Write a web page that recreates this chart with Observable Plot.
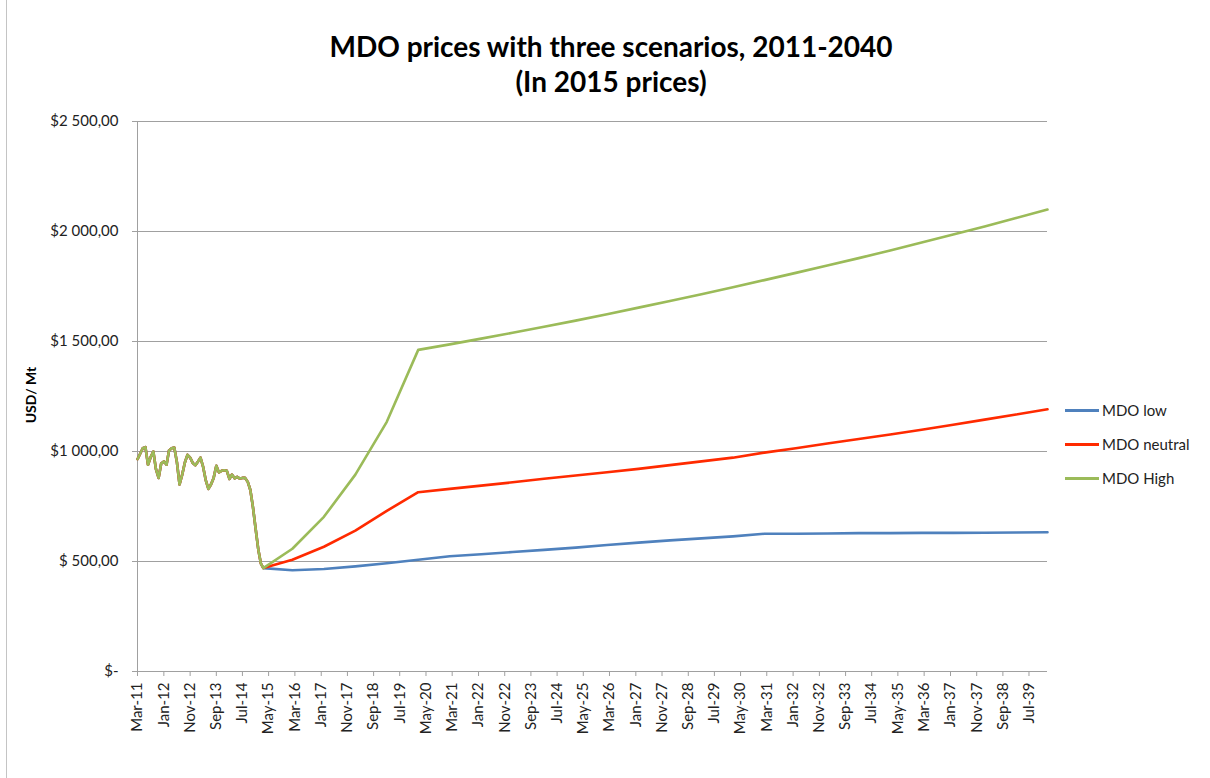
<!DOCTYPE html>
<html>
<head>
<meta charset="utf-8">
<script src="https://cdn.jsdelivr.net/npm/d3@7"></script>
<script src="https://cdn.jsdelivr.net/npm/@observablehq/plot@0.6"></script>
<style>
  body { margin: 0; background: #fff; font-family: Lato, "Open Sans", sans-serif; }
  #wrap { position: relative; width: 1210px; height: 778px; overflow: hidden; }
  #title { box-sizing: border-box; height: 100px; padding-top: 29px; padding-left: 12px; text-align: center;
           font-weight: bold; font-size: 28px; line-height: 35px; color: #000; }
  #ylabel { position: absolute; left: 30px; top: 395px; transform: translate(-50%, -50%) rotate(-90deg);
            font-weight: bold; font-size: 14px; color: #000; white-space: nowrap; }
  #border { position: absolute; left: 6px; top: 0; width: 1px; height: 778px; background: #c4c4c4; }
  .lg { position: absolute; left: 1065px; height: 20px; display: flex; align-items: center; font-size: 15px; color: #222; white-space: nowrap; }
  .lg span.sw { display: inline-block; width: 34px; height: 3px; margin-right: 3px; }
</style>
</head>
<body>
<div id="wrap">
  <div id="border"></div>
  <div id="title">MDO prices with three scenarios, 2011-2040<br>(In 2015 prices)</div>
  <div id="chart"></div>
  <div id="ylabel">USD/ Mt</div>
  <div id="legend"></div>
</div>
<script>
// ---- Data ----
const seriesNames = ["MDO low", "MDO neutral", "MDO High"];
const seriesColors = ["#4F81BD", "#FF2A00", "#9BBB59"];

// Historical monthly prices (shared by all scenarios), Mar-11 .. Mar-15
const histStart = "2011-03";
const histValues = [965, 990, 1015, 1020, 940, 975, 1000, 920, 880, 945, 955, 940,
                    1005, 1015, 1018, 950, 850, 895, 950, 985, 972, 948, 938, 955,
                    972, 930, 870, 830, 850, 880, 935, 905, 912, 915, 912, 875,
                    895, 878, 885, 877, 880, 880, 862, 825, 745, 650, 555, 490, 470];

// Scenario points
const projDates = ["2015-03", "2016-02", "2017-02", "2018-02", "2019-02", "2020-02", "2021-02", "2022-02",
                   "2023-02", "2024-02", "2025-02", "2026-02", "2027-02", "2028-02", "2029-02", "2030-02",
                   "2031-02", "2032-02", "2033-02", "2034-02", "2035-02", "2036-02", "2037-02", "2038-02",
                   "2039-02", "2040-02"];
const lowValues = [470, 460, 466, 478, 492, 508, 524, 533, 543, 553, 563, 575, 586, 596, 605, 614,
                   626, 626, 627, 629, 629, 630, 630, 631, 632, 633];
const neutralValues = [470, 508, 567, 640, 730, 815, 830, 845, 860, 876, 891, 906, 921, 938, 955, 972,
                       995, 1015, 1036, 1057, 1077, 1099, 1122, 1145, 1168, 1192];
const highValues = [470, 558, 703, 895, 1135, 1462, 1487, 1513, 1540, 1567, 1595, 1624, 1654, 1684, 1715, 1747,
                    1779, 1812, 1845, 1879, 1914, 1950, 1986, 2023, 2061, 2100];

// Axis ticks
const xTickLabels = ["Mar-11", "Jan-12", "Nov-12", "Sep-13", "Jul-14", "May-15", "Mar-16", "Jan-17", "Nov-17",
                     "Sep-18", "Jul-19", "May-20", "Mar-21", "Jan-22", "Nov-22", "Sep-23", "Jul-24", "May-25",
                     "Mar-26", "Jan-27", "Nov-27", "Sep-28", "Jul-29", "May-30", "Mar-31", "Jan-32", "Nov-32",
                     "Sep-33", "Jul-34", "May-35", "Mar-36", "Jan-37", "Nov-37", "Sep-38", "Jul-39"];
const yTicks = [0, 500, 1000, 1500, 2000, 2500];
const yTickLabels = ["$-", "$ 500,00", "$1 000,00", "$1 500,00", "$2 000,00", "$2 500,00"];

// ---- Build tables ----
const parseYM = d3.utcParse("%Y-%m");
const parseLbl = d3.utcParse("%b-%y");
const h0 = parseYM(histStart);
const hist = histValues.map((v, i) => ({date: d3.utcMonth.offset(h0, i), value: v}));
const scen = [lowValues, neutralValues, highValues].map(vals =>
  hist.slice(0, -1).concat(vals.map((v, i) => ({date: parseYM(projDates[i]), value: v}))));

const xTickDates = xTickLabels.map(s => parseLbl(s));
const xLabelMap = new Map(xTickDates.map((d, i) => [+d, xTickLabels[i]]));
const yLabelMap = new Map(yTicks.map((d, i) => [d, yTickLabels[i]]));
const xDomain = [h0, parseYM(projDates[projDates.length - 1])];

const gray = "#a0a0a0";
const chart = Plot.plot({
  width: 1210,
  height: 678,
  marginTop: 21,
  marginLeft: 137,
  marginRight: 163,
  marginBottom: 107,
  style: {fontFamily: "Lato, 'Open Sans', sans-serif", fontSize: "15px", color: "#222", background: "transparent"},
  x: {type: "utc", domain: xDomain},
  y: {domain: [0, 2500]},
  marks: [
    Plot.gridY(yTicks, {stroke: gray, strokeOpacity: 1}),
    Plot.ruleX([xDomain[0]], {stroke: gray}),
    Plot.ruleY([0], {stroke: gray}),
    Plot.axisY(yTicks, {tickFormat: d => yLabelMap.get(d), tickSize: 5, tickPadding: 14, stroke: gray, fill: "#222", label: null}),
    Plot.axisX(xTickDates, {tickFormat: d => xLabelMap.get(+d), tickRotate: -90, tickSize: 5, tickPadding: 6, stroke: gray, fill: "#222", label: null}),
    ...scen.map((rows, k) => Plot.line(rows, {x: "date", y: "value", stroke: seriesColors[k], strokeWidth: 2.6}))
  ]
});
document.getElementById("chart").appendChild(chart);

// Legend
const legend = document.getElementById("legend");
const legendTops = [400, 434, 468];
seriesNames.forEach((n, i) => {
  const row = document.createElement("div");
  row.className = "lg";
  row.style.top = legendTops[i] + "px";
  row.innerHTML = `<span class="sw" style="background:${seriesColors[i]}"></span>${n}`;
  legend.appendChild(row);
});
</script>
</body>
</html>
